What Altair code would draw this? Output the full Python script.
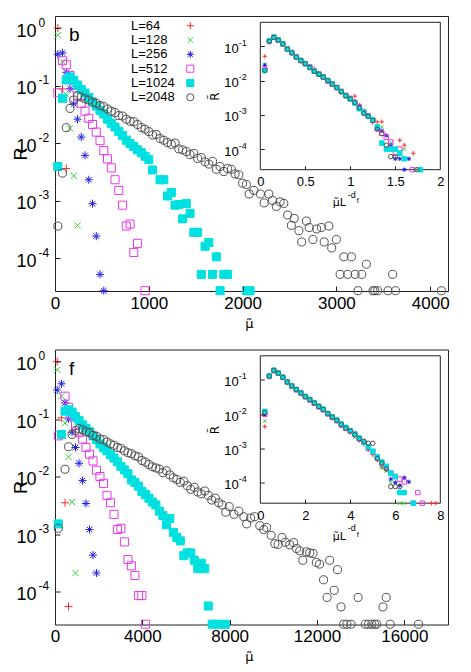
import altair as alt
import pandas as pd

# ---------------- categories / styling ----------------
SERIES = ["L=64", "L=128", "L=256", "L=512", "L=1024", "L=2048"]
COLORS = ["#ff2a2a", "#33d633", "#2020e8", "#e83ae8", "#00e0e0", "#505050"]
PLUS = "M-1,0L1,0M0,-1L0,1"
CROSS = "M-0.8,-0.8L0.8,0.8M-0.8,0.8L0.8,-0.8"
STAR = "M-1,0L1,0M0,-1L0,1M-0.7,-0.7L0.7,0.7M-0.7,0.7L0.7,-0.7"
SHAPES = [PLUS, CROSS, STAR, "square", "square", "circle"]
FILLS = ["transparent", "transparent", "transparent", "transparent", "#00e0e0", "transparent"]

# ---------------- tick labels ----------------
B_XTICKS = [0, 1000, 2000, 3000, 4000]
F_XTICKS = [0, 4000, 8000, 12000, 16000]
IB_XTICKS = [0, 0.5, 1, 1.5, 2]
IF_XTICKS = [0, 2, 4, 6, 8]
DEC_MAIN = [1, 0.1, 0.01, 0.001, 0.0001]
DEC_INSET = [0.1, 0.01, 0.001, 0.0001]

# ---------------- panel b, main data ----------------
b64_x = [30, 80, 120]
b64_R = [1.0, 0.087, 0.0036]
b128_x = [30, 80, 120, 160, 200, 240]
b128_R = [0.75, 0.26, 0.070, 0.018, 0.0027, 0.00037]
b256_x = [30, 80, 120, 160, 200, 240, 280, 320, 360, 400, 440, 480, 520]
b256_R = [0.35, 0.37, 0.17, 0.088, 0.048, 0.026, 0.0127, 0.0061, 0.0023, 0.00088, 0.00024, 0.000052, 0.000027]
b512_x = [30, 80, 120, 160, 200, 240, 280, 320, 360, 400, 440, 480, 520, 560, 600, 640, 680, 720, 760, 800,
          840, 880, 960]
b512_R = [0.075, 0.27, 0.23, 0.15, 0.10, 0.066, 0.049, 0.036, 0.027, 0.021, 0.0155, 0.011, 0.0074, 0.0053,
          0.0037, 0.0023, 0.0015, 0.00083, 0.00036, 0.00039, 0.000125, 0.00018, 0.000027]
b1024_x = [30, 80, 120, 160, 200, 240, 280, 320, 360, 400, 440, 480, 520, 560, 600, 640, 680, 720, 760, 800,
           840, 880, 920, 960, 1000, 1040, 1120, 1160, 1200, 1240, 1280, 1320, 1360, 1400, 1440, 1480, 1520,
           1560, 1600, 1640, 1680, 1720, 1760, 1800, 1840, 2040, 2080]
b1024_R = [0.0039, 0.060, 0.125, 0.141, 0.123, 0.102, 0.085, 0.074, 0.062, 0.052, 0.044, 0.037, 0.032, 0.026,
           0.022, 0.019, 0.016, 0.0135, 0.0112, 0.0098, 0.0087, 0.0076, 0.0068, 0.0059, 0.0052, 0.0034, 0.0023,
           0.0023, 0.0012, 0.00138, 0.00083, 0.00085, 0.00048, 0.00089, 0.00060, 0.00028, 0.00028, 0.000052,
           0.00016, 0.000186, 0.000052, 0.000105, 0.000027, 0.000052, 0.000052, 0.000027, 0.000027]
b2048_x = [30, 80, 120, 160, 200, 240, 280, 320, 360, 400, 440, 480, 520, 560, 600, 640, 680, 720, 760, 800,
           840, 880, 920, 960, 1000, 1040, 1080, 1120, 1160, 1200, 1240, 1280, 1320, 1360, 1400, 1440, 1480,
           1520, 1560, 1600, 1640, 1680, 1720, 1760, 1800, 1840, 1880, 1920, 1960, 2000, 2040,
           2070, 2120, 2190, 2230, 2280, 2320, 2360, 2400, 2440, 2480, 2520, 2550, 2600, 2630, 2680, 2710,
           2750, 2790, 2840, 2870, 2920, 2950, 3000, 3040, 3080, 3120, 3160, 3200, 3230, 3270, 3320, 3390,
           3410, 3440, 3550, 3600, 3630, 4120]
b2048_R = [0.00036, 0.003, 0.0185, 0.04, 0.056, 0.066, 0.063, 0.059, 0.056, 0.051, 0.049, 0.045, 0.043, 0.039,
           0.036, 0.034, 0.030, 0.0295, 0.026, 0.024, 0.0234, 0.021, 0.0186, 0.0174, 0.0158, 0.0138, 0.0141,
           0.012, 0.0112, 0.0102, 0.0095, 0.010, 0.0079, 0.0076, 0.0071, 0.0063, 0.0066, 0.0054, 0.0056,
           0.0047, 0.0043, 0.0048, 0.0035, 0.0039, 0.0032, 0.0036, 0.0035, 0.0029, 0.0028, 0.002, 0.0019,
           0.0013, 0.0015, 0.0013, 0.00091, 0.0013, 0.001, 0.00079, 0.00095, 0.00089, 0.00056, 0.00037,
           0.00049, 0.0003, 0.00019, 0.00044, 0.00034, 0.00021, 0.00032, 0.00034, 0.00019, 0.00036, 0.00015,
           0.00021, 0.000052, 0.000105, 0.000052, 0.000105, 0.000052, 0.000027, 0.000052, 0.000078, 0.000027,
           0.000027, 0.000027, 0.000027, 0.000052, 0.000027, 0.000027]

# ---------------- panel f, main data ----------------
f64_x = [100, 300, 460, 620]
f64_R = [1.0, 0.105, 0.0035, 0.000055]
f128_x = [100, 300, 460, 620, 780, 940]
f128_R = [0.72, 0.25, 0.085, 0.022, 0.0036, 0.00021]
f256_x = [100, 300, 460, 620, 780, 940, 1100, 1260, 1420, 1580, 1740, 1900]
f256_R = [0.32, 0.41, 0.19, 0.10, 0.059, 0.032, 0.017, 0.0085, 0.0034, 0.0012, 0.00043, 0.00021]
f512_x = [150, 460, 620, 780, 940, 1100, 1260, 1420, 1580, 1740, 1900, 2060, 2220, 2380, 2540, 2700, 2860,
          3020, 3180, 3340, 3500, 3660, 3820, 3980, 4140]
f512_R = [0.051, 0.25, 0.16, 0.117, 0.078, 0.058, 0.045, 0.032, 0.0245, 0.0187, 0.0129, 0.010, 0.0076, 0.0047,
          0.0035, 0.0022, 0.0012, 0.00126, 0.00073, 0.00036, 0.00028, 0.00019, 0.000085, 0.000085, 0.000027]
f1024_x = [150, 300, 460, 620, 780, 940, 1100, 1260, 1420, 1580, 1740, 1900, 2060, 2220, 2380, 2540, 2700,
           2860, 3020, 3180, 3340, 3500, 3660, 3820, 3980, 4140, 4300, 4460, 4620, 4780, 4940, 5100, 5260,
           5420, 5580, 5740, 5900, 6060, 6220, 6380, 6540, 6700, 6860, 7020, 7200, 7450, 7800]
f1024_R = [0.0015, 0.054, 0.137, 0.145, 0.132, 0.11, 0.095, 0.079, 0.069, 0.060, 0.051, 0.044, 0.037, 0.032,
           0.028, 0.024, 0.021, 0.018, 0.015, 0.013, 0.0112, 0.0087, 0.0079, 0.0068, 0.0055, 0.0049, 0.0042,
           0.0036, 0.0032, 0.0025, 0.0021, 0.00145, 0.00186, 0.00107, 0.00087, 0.00076, 0.00042, 0.00047,
           0.00047, 0.00035, 0.00025, 0.00031, 0.00025, 0.000056, 0.000027, 0.000027, 0.000027]
f2048_x = [150, 460, 620, 780, 940, 1100, 1260, 1420, 1580, 1740, 1900, 2060, 2220, 2380, 2540, 2700, 2860,
           3020, 3180, 3340, 3500, 3660, 3820, 3980, 4140, 4300, 4460, 4620, 4780, 4940, 5100, 5260, 5420,
           5580, 5740, 5900, 6060, 6220, 6380, 6540, 6700, 6860, 7020, 7180, 7340, 7500, 7660, 7820, 7980,
           8200, 8420, 8650, 8780, 8960, 9140, 9380, 9560, 9690, 9900, 10070, 10220, 10400, 10550, 10750,
           10930, 11060, 11210, 11350, 11510, 11670, 11820, 11970, 12120, 12300, 12460, 12580, 12790, 12940,
           13100, 13220, 13370, 13560, 13880, 14210, 14360, 14510, 14640, 14740, 15020, 15170, 15350, 16650]
f2048_R = [0.00126, 0.0134, 0.033, 0.054, 0.063, 0.068, 0.065, 0.060, 0.058, 0.052, 0.050, 0.045, 0.044,
           0.040, 0.037, 0.035, 0.032, 0.031, 0.028, 0.026, 0.025, 0.023, 0.022, 0.019, 0.0178, 0.0162,
           0.0148, 0.0141, 0.0135, 0.0117, 0.0126, 0.0107, 0.0095, 0.0089, 0.0079, 0.0083, 0.0069, 0.006,
           0.0065, 0.0054, 0.005, 0.0056, 0.0047, 0.0039, 0.0042, 0.0035, 0.0032, 0.0024, 0.003,
           0.0022, 0.0025, 0.002, 0.0015, 0.0019, 0.002, 0.0014, 0.0012, 0.0013, 0.00095, 0.00068, 0.00066,
           0.00087, 0.00072, 0.00065, 0.00071, 0.00056, 0.00051, 0.00035, 0.00049, 0.00047, 0.00046, 0.00032,
           0.0003, 0.00016, 0.000079, 0.00035, 0.000105, 0.00024, 0.000054, 0.000027, 0.000027, 0.000027,
           0.000079, 0.000027, 0.000027, 0.000027, 0.000027, 0.000027, 0.000054, 0.000079, 0.000027, 0.000027]

# ---------------- panel b, inset data (x = mu L^-df) ----------------
IB_BINS = [0.05, 0.10, 0.15, 0.20, 0.25, 0.30, 0.35, 0.40, 0.45, 0.50, 0.55, 0.60, 0.65, 0.70, 0.75, 0.80,
           0.85, 0.90, 0.95, 1.00, 1.05, 1.10, 1.15, 1.20, 1.25, 1.30, 1.35, 1.40, 1.45, 1.50, 1.55, 1.60]
ib64_x = IB_BINS[:27] + [1.55, 1.60, 1.70]
ib64_R = [0.051, 0.13, 0.175, 0.155, 0.12, 0.08, 0.066, 0.047, 0.040, 0.031, 0.025, 0.022, 0.0157, 0.0121,
          0.0098, 0.0076, 0.0062, 0.0046, 0.0035, 0.0031, 0.0035, 0.0019, 0.0011, 0.00087, 0.0006, 0.00062,
          0.00062, 0.00018, 0.00013, 0.000075]
ib128_x = IB_BINS[:27] + [1.45, 1.60, 1.72]
ib128_R = [0.03, 0.14, 0.18, 0.15, 0.116, 0.082, 0.064, 0.048, 0.038, 0.030, 0.024, 0.0185, 0.0152, 0.0125,
           0.0099, 0.0078, 0.0061, 0.0047, 0.0036, 0.0029, 0.0024, 0.0019, 0.0013, 0.00097, 0.0007, 0.00042,
           0.00044, 0.00015, 0.0001, 0.000025]
ib256_x = IB_BINS[:30] + [1.55, 1.60, 1.65]
ib256_R = [0.028, 0.145, 0.185, 0.152, 0.118, 0.084, 0.066, 0.049, 0.038, 0.031, 0.024, 0.019, 0.0156, 0.0128,
           0.0101, 0.008, 0.0063, 0.0049, 0.0037, 0.003, 0.0024, 0.0017, 0.0013, 0.00095, 0.00068, 0.0004,
           0.00034, 0.00025, 0.00013, 0.000052, 0.000052, 0.000025, 0.000052]
ib512_x = IB_BINS[:31] + [1.69]
ib512_R = [0.022, 0.14, 0.183, 0.15, 0.118, 0.084, 0.065, 0.049, 0.038, 0.031, 0.025, 0.019, 0.0155, 0.0127,
           0.0097, 0.0079, 0.0062, 0.0048, 0.0037, 0.003, 0.0023, 0.0017, 0.0012, 0.00093, 0.0007, 0.0004,
           0.00029, 0.00022, 0.00016, 0.000076, 0.0001, 0.000025]
ib1024_x = IB_BINS[:32] + [1.78]
ib1024_R = [0.0195, 0.145, 0.186, 0.153, 0.118, 0.083, 0.066, 0.048, 0.039, 0.031, 0.024, 0.0188, 0.0155,
            0.0127, 0.0101, 0.008, 0.0063, 0.0048, 0.0036, 0.0029, 0.0022, 0.0015, 0.0012, 0.0009, 0.00072,
            0.00045, 0.00015, 0.0001, 0.0001, 0.0001, 0.000076, 0.000052, 0.000025]
ib2048_x = IB_BINS[:30] + [1.74]
ib2048_R = [0.02, 0.14, 0.18, 0.151, 0.116, 0.082, 0.064, 0.048, 0.038, 0.031, 0.024, 0.0185, 0.0153, 0.0124,
            0.0099, 0.0078, 0.0062, 0.0047, 0.0036, 0.0029, 0.0023, 0.0016, 0.0011, 0.0009, 0.00068, 0.00038,
            0.00028, 0.00013, 0.00006, 0.00006, 0.000025]

# ---------------- panel f, inset data ----------------
IF_BINS = [0.2, 0.4, 0.6, 0.8, 1.0, 1.2, 1.4, 1.6, 1.8, 2.0, 2.2, 2.4, 2.6, 2.8, 3.0, 3.2, 3.4, 3.6, 3.8, 4.0,
           4.2, 4.4, 4.6, 4.8, 5.0, 5.2, 5.4, 5.6, 5.8, 6.0, 6.2, 6.4, 6.6]
if64_x = IF_BINS[:28] + [6.4, 7.6, 7.8]
if64_R = [0.0043, 0.12, 0.18, 0.15, 0.113, 0.083, 0.064, 0.05, 0.04, 0.031, 0.025, 0.02, 0.016, 0.013, 0.0098,
          0.0078, 0.0062, 0.0046, 0.0036, 0.0029, 0.0028, 0.0017, 0.0013, 0.0009, 0.00065, 0.00045, 0.00028,
          0.00023, 0.000052, 0.000025, 0.000025]
if128_x = IF_BINS[:29] + [6.2, 6.4]
if128_R = [0.0062, 0.123, 0.183, 0.153, 0.115, 0.084, 0.064, 0.05, 0.04, 0.032, 0.026, 0.021, 0.0163, 0.0133,
           0.01, 0.0079, 0.0063, 0.0048, 0.0038, 0.0031, 0.0021, 0.0018, 0.0014, 0.00093, 0.00072, 0.0005,
           0.00027, 0.00022, 0.0001, 0.000025, 0.000025]
if256_x = IF_BINS[:33]
if256_R = [0.0095, 0.127, 0.187, 0.156, 0.118, 0.086, 0.066, 0.052, 0.041, 0.032, 0.026, 0.021, 0.0167, 0.0136,
           0.0103, 0.0082, 0.0066, 0.005, 0.004, 0.0032, 0.0025, 0.0019, 0.00145, 0.001, 0.00078, 0.00053,
           0.00038, 0.00028, 0.000126, 0.0001, 0.000082, 0.000138, 0.000105]
if512_x = IF_BINS[:32] + [6.8, 7.0, 7.2]
if512_R = [0.0098, 0.125, 0.185, 0.155, 0.117, 0.085, 0.065, 0.051, 0.041, 0.032, 0.026, 0.0205, 0.0162,
           0.0133, 0.0102, 0.008, 0.0064, 0.0048, 0.0039, 0.0032, 0.0026, 0.0019, 0.0015, 0.001, 0.0008,
           0.00055, 0.00037, 0.00028, 0.00019, 0.00015, 0.000126, 0.000105, 0.000025, 0.000051, 0.000025]
if1024_x = IF_BINS[:32] + [6.8]
if1024_R = [0.012, 0.13, 0.19, 0.158, 0.12, 0.087, 0.067, 0.052, 0.042, 0.033, 0.027, 0.0215, 0.017, 0.014,
            0.0105, 0.0084, 0.0067, 0.0051, 0.0041, 0.0033, 0.0026, 0.002, 0.0015, 0.0011, 0.00082, 0.00056,
            0.0004, 0.0003, 0.00019, 0.00015, 0.000051, 0.000051, 0.000025]
if2048_x = IF_BINS[:31]
if2048_R = [0.011, 0.128, 0.188, 0.156, 0.118, 0.086, 0.066, 0.052, 0.041, 0.032, 0.026, 0.021, 0.0166, 0.0135,
            0.0102, 0.0081, 0.0065, 0.0049, 0.0039, 0.0032, 0.0025, 0.0019, 0.0016, 0.0014, 0.0014, 0.0005,
            0.00037, 0.00025, 0.000076, 0.000076, 0.000076]

# ---------------- geometry (pixels) ----------------
W, H = 393, 275
MAIN_YDOM = [2.67e-5, 1.62]
INSET_YDOM = [2.5e-5, 0.5]
IX0, IX1 = 205.3, 385.3
IY_TOP, IY_BOT = 6.3, 153.7
EXP = "'' + round(log(datum.value) / LN10)"
DUMMY = pd.DataFrame({"d": [0]})
LEGEND_DF = pd.DataFrame({"L": SERIES})


def frame(xs_list, rs_list, xname):
    rows = []
    for name, xs, rs in zip(SERIES, xs_list, rs_list):
        assert len(xs) == len(rs), (name, len(xs), len(rs))
        rows += [{"L": name, xname: x, "R": r} for x, r in zip(xs, rs)]
    return pd.DataFrame(rows)


STYLE = dict(
    color=alt.Color("L:N", scale=alt.Scale(domain=SERIES, range=COLORS), legend=None),
    shape=alt.Shape("L:N", scale=alt.Scale(domain=SERIES, range=SHAPES), legend=None),
    fill=alt.Fill("L:N", scale=alt.Scale(domain=SERIES, range=FILLS), legend=None),
)


def txt(text, x, y, size, **kw):
    return alt.Chart(DUMMY).mark_text(text=text, fontSize=size, color="black", **kw).encode(
        x=alt.value(x), y=alt.value(y))


def legend_group():
    ly = alt.Scale(type="point", domain=SERIES, range=[9.7, 81.3], padding=0)
    sym = alt.Chart(LEGEND_DF).mark_point(filled=False, size=50, strokeWidth=1, opacity=1).encode(
        x=alt.value(135.3), y=alt.Y("L:N", scale=ly, axis=None), **STYLE)
    lab = alt.Chart(LEGEND_DF).mark_text(align="left", baseline="middle", fontSize=13, color="black").encode(
        x=alt.value(76), y=alt.Y("L:N", scale=ly, axis=None), text="L:N")
    return alt.layer(sym, lab)


def panel(main_df, inset_df, xdom, xticks, ixdom, ixticks, letter, show_legend):
    xs = alt.Scale(domain=xdom, nice=False, zero=False)
    ys = alt.Scale(type="log", domain=MAIN_YDOM, nice=False)
    m_points = alt.Chart(main_df).mark_point(filled=False, size=65, strokeWidth=1, opacity=1).encode(
        x=alt.X("mu:Q", scale=xs, axis=alt.Axis(
            values=xticks, format="d", labelFontSize=17, labelPadding=4, tickSize=0, domain=False,
            grid=False, labelFlush=False, labelOverlap=False, title=None)),
        y=alt.Y("R:Q", scale=ys, axis=alt.Axis(
            values=DEC_MAIN, labelExpr="'10'", labelFontSize=18, labelAlign="right", labelPadding=19,
            labelOffset=3, tickSize=0, domain=False, grid=False, labelOverlap=False, title="R",
            titleFontSize=18, titleFontWeight="normal", titleX=-25, titleY=H / 2)),
        **STYLE)
    m_aux1 = alt.Chart(DUMMY).mark_point(opacity=0).encode(
        x=alt.XDatum(xdom[0], type="quantitative", axis=alt.Axis(
            orient="top", offset=-H, values=xticks[1:], labels=False, domain=False, grid=False,
            tickSize=5, tickColor="#222", title=None, zindex=1)),
        y=alt.YDatum(1, type="quantitative", axis=alt.Axis(
            orient="left", values=DEC_MAIN, labelExpr=EXP, labelFontSize=12, labelAlign="left",
            labelPadding=17, labelOffset=-6, tickSize=0, domain=False, grid=False, labelOverlap=False,
            title=None)))
    m_aux2 = alt.Chart(DUMMY).mark_point(opacity=0).encode(
        x=alt.XDatum(xdom[0], type="quantitative", axis=None),
        y=alt.YDatum(1, type="quantitative", axis=alt.Axis(
            orient="right", offset=-W, values=DEC_MAIN, labels=False, domain=False, grid=False,
            tickSize=5, tickColor="#222", title=None, zindex=1)))
    main = alt.layer(m_points, m_aux1, m_aux2).resolve_axis(x="independent", y="independent")

    ixs = alt.Scale(domain=ixdom, range=[IX0, IX1], nice=False, zero=False)
    iys = alt.Scale(type="log", domain=INSET_YDOM, range=[IY_BOT, IY_TOP], nice=False)
    i_box = alt.Chart(DUMMY).mark_rect(fill="white", stroke="#222", strokeWidth=1).encode(
        x=alt.XDatum(ixdom[0], type="quantitative", scale=ixs, axis=alt.Axis(
            orient="top", offset=-IY_BOT, values=ixticks[1:-1], labels=False, domain=False, grid=False,
            tickSize=4, tickColor="#222", title=None, zindex=1)),
        x2=alt.X2Datum(ixdom[1]),
        y=alt.YDatum(INSET_YDOM[0], type="quantitative", scale=iys, axis=alt.Axis(
            orient="right", offset=-(W - IX0), values=DEC_INSET, labels=False, domain=False, grid=False,
            tickSize=4, tickColor="#222", title=None, zindex=1)),
        y2=alt.Y2Datum(INSET_YDOM[1]))
    i_points = alt.Chart(inset_df).mark_point(filled=False, size=20, strokeWidth=1, opacity=1).encode(
        x=alt.X("x:Q", scale=ixs, axis=alt.Axis(
            orient="bottom", offset=-(H - IY_BOT), values=ixticks, format="~g", labelFontSize=13,
            labelPadding=6, tickSize=0, domain=False, grid=False, labelFlush=False, labelOverlap=False,
            title=None, zindex=1)),
        y=alt.Y("R:Q", scale=iys, axis=alt.Axis(
            orient="left", offset=-IX0, values=DEC_INSET, labelExpr="'10'", labelFontSize=13,
            labelAlign="right", labelPadding=22, labelOffset=2, tickSize=0, domain=False, grid=False,
            labelOverlap=False, title=None, zindex=1)),
        **STYLE)
    i_aux = alt.Chart(DUMMY).mark_point(opacity=0).encode(
        x=alt.XDatum(ixdom[0], type="quantitative", axis=None),
        y=alt.YDatum(0.1, type="quantitative", axis=alt.Axis(
            orient="left", offset=-IX0, values=DEC_INSET, labelExpr=EXP, labelFontSize=9,
            labelAlign="left", labelPadding=22, labelOffset=-4, tickSize=0, domain=False, grid=False,
            labelOverlap=False, title=None, zindex=1)))
    inset = alt.layer(i_box, i_points, i_aux).resolve_axis(x="independent", y="independent")

    layers = [main, inset]
    if show_legend:
        layers.append(legend_group())
    layers += [
        txt(letter, 14, 25, 19, align="left", baseline="alphabetic"),
        # main x-axis title: mu with a tilde above (combining tilde)
        txt("μ̃", 194.3, 311.5, 13, align="center", baseline="alphabetic", font="DejaVu Sans"),
        # inset y-axis title: R with a tilde (rotated)
        txt("R̃", 159.5, 80.5, 12, angle=270, align="center", baseline="middle", font="DejaVu Sans"),
        # inset x-axis title: mu~ L^{-d_f}
        txt("μ̃L", 277.7, 190.3, 11, align="left", baseline="alphabetic", font="DejaVu Sans"),
        txt("-d", 292.7, 181.7, 9, align="left", baseline="alphabetic"),
        txt("f", 301.7, 187, 7.5, align="left", baseline="alphabetic"),
    ]
    return alt.layer(*layers).resolve_scale(x="independent", y="independent").properties(width=W, height=H)


b_main = frame([b64_x, b128_x, b256_x, b512_x, b1024_x, b2048_x],
               [b64_R, b128_R, b256_R, b512_R, b1024_R, b2048_R], "mu")
f_main = frame([f64_x, f128_x, f256_x, f512_x, f1024_x, f2048_x],
               [f64_R, f128_R, f256_R, f512_R, f1024_R, f2048_R], "mu")
b_inset = frame([ib64_x, ib128_x, ib256_x, ib512_x, ib1024_x, ib2048_x],
                [ib64_R, ib128_R, ib256_R, ib512_R, ib1024_R, ib2048_R], "x")
f_inset = frame([if64_x, if128_x, if256_x, if512_x, if1024_x, if2048_x],
                [if64_R, if128_R, if256_R, if512_R, if1024_R, if2048_R], "x")

panel_b = panel(b_main, b_inset, [0, 4190], B_XTICKS, [0, 2], IB_XTICKS, "b", True)
panel_f = panel(f_main, f_inset, [0, 18000], F_XTICKS, [0, 8], IF_XTICKS, "f", False)

chart = alt.vconcat(panel_b, panel_f, spacing=17.5).properties(
    padding={"left": 3, "top": 7, "right": 4, "bottom": 4}
).configure(font="Liberation Sans").configure_view(
    stroke="#222", strokeWidth=1
).configure_axis(labelColor="black", titleColor="black", labelFont="Liberation Sans",
                 titleFont="Liberation Sans")

chart.save("out.html", embed_options={"renderer": "svg", "actions": False})
